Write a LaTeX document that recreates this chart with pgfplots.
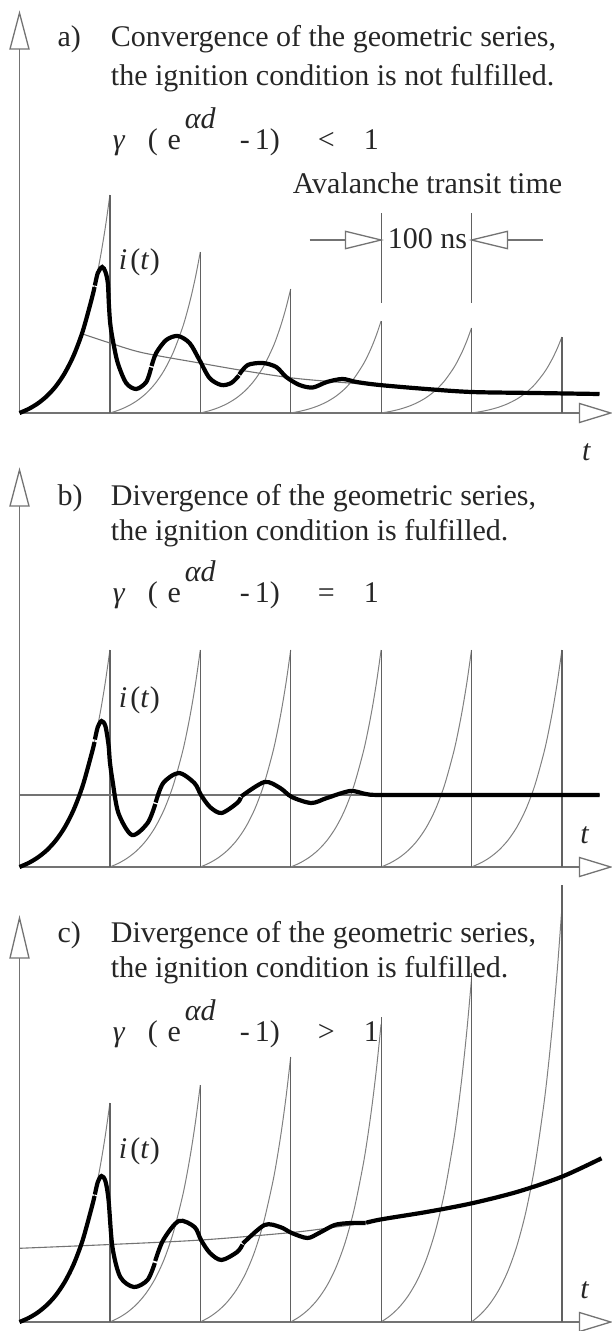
\documentclass[border=0pt]{standalone}
\usepackage{fontspec}
\setmainfont{Liberation Serif}
\usepackage{pgfplots}
\pgfplotsset{compat=1.18}

\newcommand\lab{\fontsize{15pt}{18pt}\selectfont}

% one unit of t = one avalanche transit time; y in picture units
\pgfplotsset{
  panel/.style={anchor=south west, x=45.2pt, y=0.5pt,
    xmin=0, xmax=6.6, ymin=0, ymax=410, axis lines=none, clip=false},
  spike/.style={black!50, line width=0.5pt, smooth},
  vline/.style={black!62, line width=0.6pt},
  envel/.style={black!55, line width=0.55pt, smooth},
  cur/.style={black, line width=2.1pt, smooth},
}
\tikzset{
  axisline/.style={black!55, line width=0.65pt},
  txt/.style={font=\lab, inner sep=0pt, text=black!85},
}

\newcommand\axes[2]{% #1 = base of y arrow, #2 = tip of y arrow
  \draw[axisline] (axis cs:0,0) -- (axis cs:6.195,0);
  \draw[axisline, fill=white] (axis cs:6.195,-9.5) -- (axis cs:6.54,0) -- (axis cs:6.195,9.5) -- cycle;
  \draw[axisline] (axis cs:0,0) -- (axis cs:0,#1);
  \draw[axisline, fill=white] (axis cs:-0.105,#1) -- (axis cs:0,#2) -- (axis cs:0.105,#1) -- cycle;
}
\newcommand\ignition[3]{% #1 = baseline, #2 = relation, #3 = exponent baseline
  \node[txt, anchor=base west] at (axis cs:1.029,#1) {\itshape γ};
  \node[txt, anchor=base west] at (axis cs:1.416,#1) {(};
  \node[txt, anchor=base west] at (axis cs:1.633,#1) {e};
  \node[txt, anchor=base west] at (axis cs:1.825,#3) {\itshape αd};
  \node[txt, anchor=base west] at (axis cs:2.434,#1) {-\,1)};
  \node[txt, anchor=base west] at (axis cs:3.296,#1) {#2};
  \node[txt, anchor=base west] at (axis cs:3.805,#1) {1};
}
\newcommand\current{{\itshape i}\kern1.6pt({\itshape t}\kern0.6pt)}

\begin{document}
\begin{tikzpicture}
\path[use as bounding box] (0,0) rectangle (305.5pt,-665.5pt);

%% ---------------- a) converging series ----------------
\begin{axis}[panel, at={(9.75pt,-206.5pt)}]
\axes{364}{400}
\addplot[spike] coordinates {(0,0)(0.1,4.0)(0.2,9.4)(0.3,16.7)(0.4,26.5)(0.5,39.8)(0.6,57.7)(0.7,81.9)(0.8,114.5)(0.85,134.9)(0.9,158.5)(0.95,186.0)(1,218)};
\addplot[spike] coordinates {(1,0)(1.1,2.95)(1.2,6.94)(1.3,12.31)(1.4,19.57)(1.5,29.37)(1.6,42.60)(1.7,60.45)(1.8,84.55)(1.85,99.60)(1.9,117.09)(1.95,137.40)(2,161)};
\addplot[spike] coordinates {(2,0)(2.1,2.27)(2.2,5.34)(2.3,9.48)(2.4,15.07)(2.5,22.62)(2.6,32.81)(2.7,46.56)(2.8,65.12)(2.85,76.71)(2.9,90.18)(2.95,105.82)(3,124)};
\addplot[spike] coordinates {(3,0)(3.1,1.69)(3.2,3.96)(3.3,7.04)(3.4,11.18)(3.5,16.78)(3.6,24.34)(3.7,34.54)(3.8,48.32)(3.85,56.91)(3.9,66.91)(3.95,78.51)(4,92)};
\addplot[spike] coordinates {(4,0)(4.1,1.56)(4.2,3.66)(4.3,6.50)(4.4,10.33)(4.5,15.51)(4.6,22.49)(4.7,31.92)(4.8,44.64)(4.85,52.58)(4.9,61.82)(4.95,72.54)(5,85)};
\addplot[spike] coordinates {(5,0)(5.1,1.39)(5.2,3.27)(5.3,5.81)(5.4,9.24)(5.5,13.86)(5.6,20.11)(5.7,28.54)(5.8,39.91)(5.85,47.02)(5.9,55.27)(5.95,64.86)(6,76)};
\addplot[vline] coordinates {(1,0)(1,218)};
\addplot[vline] coordinates {(2,0)(2,161)};
\addplot[vline] coordinates {(3,0)(3,124)};
\addplot[vline] coordinates {(4,0)(4,92)};
\addplot[vline] coordinates {(5,0)(5,85)};
\addplot[vline] coordinates {(6,0)(6,76)};
% transit-time dimension
\addplot[vline] coordinates {(4,110)(4,200)};
\addplot[vline] coordinates {(5,110)(5,200)};
\draw[axisline] (axis cs:3.208,173) -- (axis cs:3.606,173);
\draw[axisline, fill=white] (axis cs:3.606,164.3) -- (axis cs:4,173) -- (axis cs:3.606,181.7) -- cycle;
\draw[axisline] (axis cs:5.398,173) -- (axis cs:5.796,173);
\draw[axisline, fill=white] (axis cs:5.398,164.3) -- (axis cs:5,173) -- (axis cs:5.398,181.7) -- cycle;
% asymptote
\addplot[envel] coordinates {(0.70,79)(1.0,70)(1.36,60.3)(1.99,50)(2.5,42)(3.02,35)(3.5,31)(3.95,28)(4.5,24)};
% current
\addplot[cur] coordinates {(0,0)(0.1,4.0)(0.2,9.4)(0.3,16.7)(0.4,26.5)(0.5,39.8)(0.6,57.7)(0.7,81.9)(0.8,114.5)(0.830,126)};
\addplot[cur] coordinates {(0.834,127.5)(0.866,140)(0.915,146)(0.951,141)(0.977,130)(0.988,110)(1.003,90)(1.032,73)(1.087,50)(1.180,30)(1.291,24)(1.402,31)(1.457,45.5)};
\addplot[cur] coordinates {(1.461,47)(1.512,60)(1.623,73)(1.751,77)(1.881,70)(1.991,53)(2.102,35)(2.231,28)(2.342,30)(2.427,37.5)};
\addplot[cur] coordinates {(2.431,38.5)(2.525,48)(2.691,50)(2.840,46)(2.950,36)(3.097,28)(3.244,25.5)(3.40,31)(3.573,34)(3.728,31)(3.982,28)(4.5,24)(5.0,21)(5.7,20)(6.416,19)};
% labels
\node[txt, anchor=base west] at (axis cs:0.417,366) {a)};
\node[txt, anchor=base west] at (axis cs:1.007,366) {Convergence of the geometric series,};
\node[txt, anchor=base west] at (axis cs:1.007,327) {the ignition condition is not fulfilled.};
\ignition{263}{<}{284}
\node[txt, anchor=base] at (axis cs:4.513,219) {Avalanche transit time};
\node[txt, anchor=base] at (axis cs:4.513,164) {100 ns};
\node[txt, anchor=base west] at (axis cs:1.095,143) {\current};
\node[txt, anchor=base] at (axis cs:6.27,-47) {\itshape t};
\end{axis}

%% ---------------- b) ignition threshold ----------------
\begin{axis}[panel, at={(9.75pt,-433.5pt)}]
\axes{361}{397}
\addplot[spike] coordinates {(0,0)(0.1,3.98)(0.2,9.35)(0.3,16.60)(0.4,26.38)(0.5,39.59)(0.6,57.41)(0.7,81.48)(0.8,113.96)(0.85,134.24)(0.9,157.81)(0.95,185.19)(1,217)};
\addplot[spike] coordinates {(1,0)(1.1,3.98)(1.2,9.35)(1.3,16.60)(1.4,26.38)(1.5,39.59)(1.6,57.41)(1.7,81.48)(1.8,113.96)(1.85,134.24)(1.9,157.81)(1.95,185.19)(2,217)};
\addplot[spike] coordinates {(2,0)(2.1,3.98)(2.2,9.35)(2.3,16.60)(2.4,26.38)(2.5,39.59)(2.6,57.41)(2.7,81.48)(2.8,113.96)(2.85,134.24)(2.9,157.81)(2.95,185.19)(3,217)};
\addplot[spike] coordinates {(3,0)(3.1,3.98)(3.2,9.35)(3.3,16.60)(3.4,26.38)(3.5,39.59)(3.6,57.41)(3.7,81.48)(3.8,113.96)(3.85,134.24)(3.9,157.81)(3.95,185.19)(4,217)};
\addplot[spike] coordinates {(4,0)(4.1,3.98)(4.2,9.35)(4.3,16.60)(4.4,26.38)(4.5,39.59)(4.6,57.41)(4.7,81.48)(4.8,113.96)(4.85,134.24)(4.9,157.81)(4.95,185.19)(5,217)};
\addplot[spike] coordinates {(5,0)(5.1,3.98)(5.2,9.35)(5.3,16.60)(5.4,26.38)(5.5,39.59)(5.6,57.41)(5.7,81.48)(5.8,113.96)(5.85,134.24)(5.9,157.81)(5.95,185.19)(6,217)};
\addplot[vline] coordinates {(1,0)(1,217)};
\addplot[vline] coordinates {(2,0)(2,217)};
\addplot[vline] coordinates {(3,0)(3,217)};
\addplot[vline] coordinates {(4,0)(4,217)};
\addplot[vline] coordinates {(5,0)(5,217)};
\addplot[vline] coordinates {(6,0)(6,217)};
\addplot[envel] coordinates {(0,72)(6.416,72)};
\addplot[cur] coordinates {(0,0)(0.1,4.0)(0.2,9.4)(0.3,16.6)(0.4,26.4)(0.5,39.6)(0.6,57.4)(0.7,81.5)(0.8,114)(0.830,125)};
\addplot[cur] coordinates {(0.834,127.5)(0.866,140)(0.907,146)(0.95,141)(0.985,122)(1.0,105)(1.028,87)(1.094,54)(1.244,32)(1.417,44)(1.502,63)};
\addplot[cur] coordinates {(1.506,64.5)(1.590,84)(1.762,94)(1.934,84)(2.008,72)(2.107,60)(2.235,54)(2.408,64)(2.448,69.5)};
\addplot[cur] coordinates {(2.452,70.5)(2.71,85)(2.883,79)(3.012,70)(3.228,64)(3.400,69)(3.658,76)(3.831,73)(4.004,72)(5,72)(6.416,72)};
\node[txt, anchor=base west] at (axis cs:0.417,362) {b)};
\node[txt, anchor=base west] at (axis cs:1.007,362) {Divergence of the geometric series,};
\node[txt, anchor=base west] at (axis cs:1.007,327) {the ignition condition is fulfilled.};
\ignition{265}{=}{286}
\node[txt, anchor=base west] at (axis cs:1.095,160) {\current};
\node[txt, anchor=base] at (axis cs:6.25,24) {\itshape t};
\end{axis}

%% ---------------- c) growing series ----------------
\begin{axis}[panel, at={(9.75pt,-661pt)}]
\axes{364}{404}
\addplot[spike] coordinates {(0,0)(0.1,4.01)(0.2,9.43)(0.3,16.75)(0.4,26.62)(0.5,39.95)(0.6,57.94)(0.7,82.23)(0.8,115.01)(0.85,135.48)(0.9,159.27)(0.95,186.90)(1,219)};
\addplot[spike] coordinates {(1,0)(1.1,4.34)(1.2,10.21)(1.3,18.13)(1.4,28.81)(1.5,43.24)(1.6,62.71)(1.7,88.99)(1.8,124.47)(1.85,146.62)(1.9,172.36)(1.95,202.26)(2,237)};
\addplot[spike] coordinates {(2,0)(2.1,4.86)(2.2,11.42)(2.3,20.27)(2.4,32.21)(2.5,48.34)(2.6,70.11)(2.7,99.50)(2.8,139.17)(2.85,163.94)(2.9,192.72)(2.95,226.15)(3,265)};
\addplot[spike] coordinates {(3,0)(3.1,5.46)(3.2,12.84)(3.3,22.79)(3.4,36.22)(3.5,54.36)(3.6,78.84)(3.7,111.89)(3.8,156.50)(3.85,184.35)(3.9,216.72)(3.95,254.32)(4,298)};
\addplot[spike] coordinates {(4,0)(4.1,6.29)(4.2,14.78)(4.3,26.23)(4.4,41.70)(4.5,62.57)(4.6,90.75)(4.7,128.79)(4.8,180.13)(4.85,212.19)(4.9,249.44)(4.95,292.72)(5,343)};
\addplot[spike] coordinates {(5,0)(5.1,7.59)(5.2,17.84)(5.3,31.66)(5.4,50.33)(5.5,75.53)(5.6,109.54)(5.7,155.45)(5.8,217.42)(5.85,256.12)(5.9,301.08)(5.95,353.31)(6,414)};
\addplot[vline] coordinates {(1,0)(1,219)};
\addplot[vline] coordinates {(2,0)(2,237)};
\addplot[vline] coordinates {(3,0)(3,265)};
\addplot[vline] coordinates {(4,0)(4,305)};
\addplot[vline] coordinates {(5,0)(5,349)};
\addplot[vline] coordinates {(6,0)(6,437)};
\addplot[envel] coordinates {(0,73.7)(1,77.5)(2.008,82)(3.012,89.5)(3.5,95)(3.831,99)};
\addplot[cur] coordinates {(0,0)(0.1,4.0)(0.2,9.4)(0.3,16.8)(0.4,26.6)(0.5,40)(0.6,57.9)(0.7,82.2)(0.8,115)(0.830,126)};
\addplot[cur] coordinates {(0.834,127.5)(0.866,140)(0.907,146)(0.95,141)(0.985,122)(1.028,75)(1.115,45)(1.266,35)(1.416,42)(1.497,59)};
\addplot[cur] coordinates {(1.501,61)(1.590,82)(1.762,101)(1.936,95)(2.008,82)(2.107,69)(2.235,62)(2.408,70)(2.467,77.5)};
\addplot[cur] coordinates {(2.471,78.5)(2.71,97)(2.883,95)(3.012,89)(3.185,84)(3.314,89)(3.486,97)(3.658,99)(3.828,99)};
\addplot[cur] coordinates {(3.834,99.3)(4.004,102.7)(4.52,110.3)(5.003,118.7)(5.512,130.3)(6.0,145.3)(6.438,163.7)};
\node[txt, anchor=base west] at (axis cs:0.417,380) {c)};
\node[txt, anchor=base west] at (axis cs:1.007,380) {Divergence of the geometric series,};
\node[txt, anchor=base west] at (axis cs:1.007,345) {the ignition condition is fulfilled.};
\ignition{281}{>}{302}
\node[txt, anchor=base west] at (axis cs:1.095,164) {\current};
\node[txt, anchor=base] at (axis cs:6.25,24) {\itshape t};
\end{axis}
\end{tikzpicture}
\end{document}
